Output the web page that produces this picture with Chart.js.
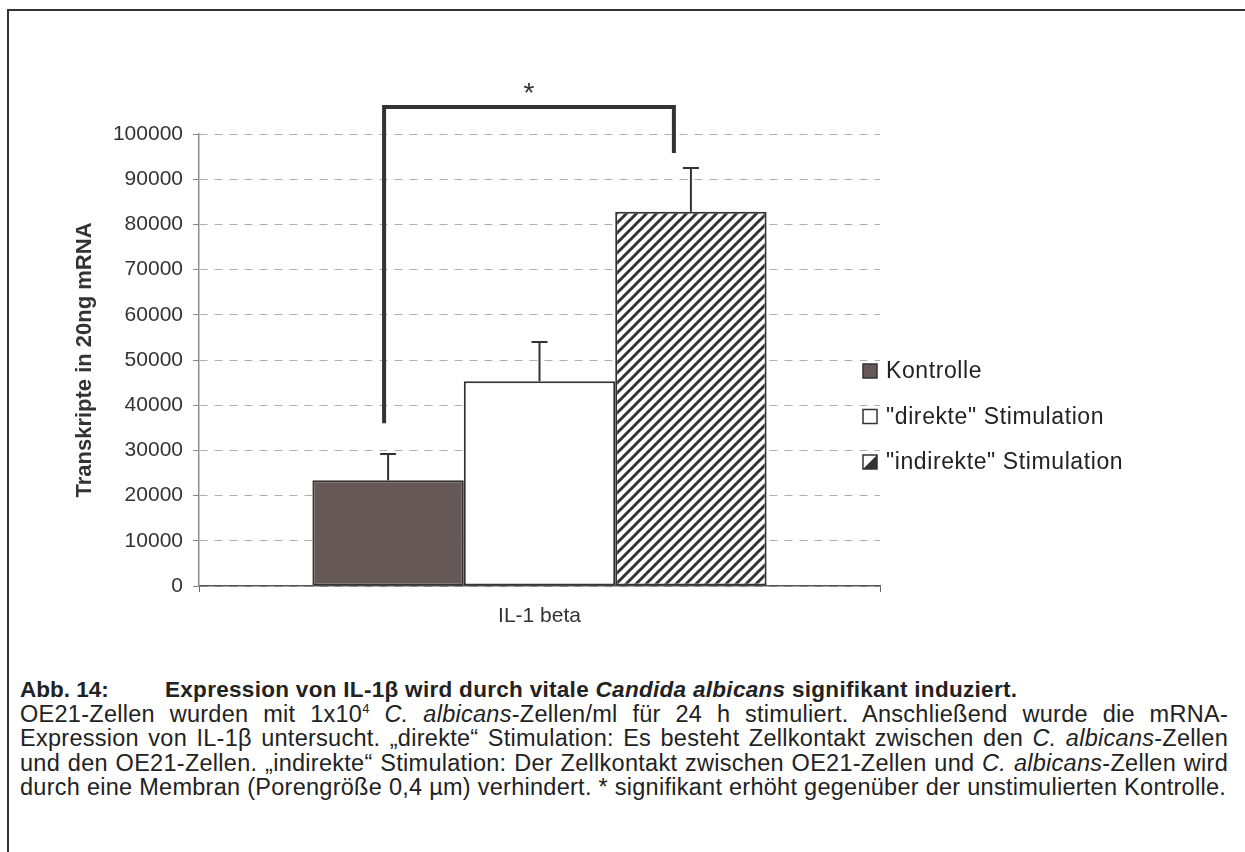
<!DOCTYPE html>
<html>
<head>
<meta charset="utf-8">
<script src="https://cdn.jsdelivr.net/npm/chart.js@4"></script>
<style>
  html, body { margin: 0; padding: 0; background: #fff; overflow: hidden; }
  body { width: 1245px; height: 852px; position: relative; font-family: 'Liberation Sans', Arial, sans-serif; color: #222; }
  #frame { position: absolute; left: 7px; top: 9px; width: 1300px; height: 900px; border: 2px solid #333; box-sizing: border-box; }
  #chart { position: absolute; left: 0; top: 0; }
  #caption { position: absolute; left: 20px; top: 678px; width: 1208px; font-size: 23.5px; line-height: 24.2px; letter-spacing: 0.27px; }
  #caption .line { text-align: justify; text-align-last: justify; }
  #caption .head { position: relative; font-weight: bold; font-size: 22.5px; letter-spacing: 0; }
  #caption .head span { letter-spacing: 0.3px; }
  #caption sup { font-size: 13px; line-height: 0; vertical-align: 9px; }
</style>
</head>
<body>
<div id="frame"></div>
<canvas id="chart" width="1245" height="660"></canvas>
<div id="caption">
  <div class="head">Abb. 14:<span style="position:absolute; left:145px; white-space:nowrap">Expression von IL-1β wird durch vitale <i>Candida albicans</i> signifikant induziert.</span></div>
  <div class="line">OE21-Zellen wurden mit 1x10<sup>4</sup> <i>C. albicans</i>-Zellen/ml für 24 h stimuliert. Anschließend wurde die mRNA-</div>
  <div class="line">Expression von IL-1β untersucht. „direkte“ Stimulation: Es besteht Zellkontakt zwischen den <i>C. albicans</i>-Zellen</div>
  <div class="line">und den OE21-Zellen. „indirekte“ Stimulation: Der Zellkontakt zwischen OE21-Zellen und <i>C. albicans</i>-Zellen wird</div>
  <div>durch eine Membran (Porengröße 0,4 µm) verhindert. * signifikant erhöht gegenüber der unstimulierten Kontrolle.</div>
</div>
<script>
// Daten
const categories = ['IL-1 beta'];
const seriesNames = ['Kontrolle', '"direkte" Stimulation', '"indirekte" Stimulation'];
const meanValues = [23400, 45300, 82800];
const errorValues = [5800, 8700, 9700];
const yTicks = [0, 10000, 20000, 30000, 40000, 50000, 60000, 70000, 80000, 90000, 100000];
// Signifikanz-Klammer: linkes Ende, Oberkante, rechtes Ende
const bracketLevels = [36000, 106000, 95800];

const FONT = "'Liberation Sans', Arial, sans-serif";
const DARK = '#333';

// Schraffur (diagonal "/")
function makeHatch() {
    const c = document.createElement('canvas');
    c.width = 10; c.height = 10;
    const g = c.getContext('2d');
    g.fillStyle = '#fff';
    g.fillRect(0, 0, 10, 10);
    g.strokeStyle = DARK;
    g.lineWidth = 3;
    g.beginPath();
    g.moveTo(-5, 5); g.lineTo(5, -5);
    g.moveTo(0, 10); g.lineTo(10, 0);
    g.moveTo(5, 15); g.lineTo(15, 5);
    g.stroke();
    return g.createPattern(c, 'repeat');
}
const hatch = makeHatch();
const fills = ['#655856', '#ffffff', hatch];

// Fehlerbalken, Klammer und Legende
const extras = {
    id: 'extras',
    afterDatasetsDraw(chart) {
        const ctx = chart.ctx;
        const y = chart.scales.y;
        ctx.save();
        ctx.strokeStyle = DARK;
        ctx.lineWidth = 2;
        meanValues.forEach((m, i) => {
            const bar = chart.getDatasetMeta(i).data[0];
            const yTop = y.getPixelForValue(m + errorValues[i]);
            ctx.beginPath();
            ctx.moveTo(bar.x, bar.y);
            ctx.lineTo(bar.x, yTop);
            ctx.moveTo(bar.x - 8, yTop);
            ctx.lineTo(bar.x + 8, yTop);
            ctx.stroke();
        });
        ctx.restore();
    },
    afterDraw(chart) {
        const ctx = chart.ctx;
        const y = chart.scales.y;
        const b0 = chart.getDatasetMeta(0).data[0];
        const b2 = chart.getDatasetMeta(2).data[0];
        const xl = b0.x - 4, xr = b2.x - 17;
        const yl = y.getPixelForValue(bracketLevels[0]);
        const yt = y.getPixelForValue(bracketLevels[1]);
        const yr = y.getPixelForValue(bracketLevels[2]);
        ctx.save();
        ctx.strokeStyle = DARK;
        ctx.lineWidth = 4;
        ctx.lineJoin = 'miter';
        ctx.beginPath();
        ctx.moveTo(xl, yl);
        ctx.lineTo(xl, yt);
        ctx.lineTo(xr, yt);
        ctx.lineTo(xr, yr);
        ctx.stroke();
        ctx.fillStyle = DARK;
        ctx.font = '28px ' + FONT;
        ctx.textAlign = 'center';
        ctx.textBaseline = 'middle';
        ctx.fillText('*', (xl + xr) / 2, yt - 13);

        // Legende
        const lx = chart.chartArea.right - 17;
        const ly = 371, gap = 45.5, box = 14;
        ctx.font = '23px ' + FONT;
        if ('letterSpacing' in ctx) ctx.letterSpacing = '0.6px';
        ctx.textAlign = 'left';
        seriesNames.forEach((name, i) => {
            const cy = ly + i * gap;
            const bx = lx, by = cy - box / 2;
            ctx.fillStyle = '#fff';
            ctx.fillRect(bx, by, box, box);
            if (i === 0) {
                ctx.fillStyle = fills[0];
                ctx.fillRect(bx, by, box, box);
            } else if (i === 2) {
                ctx.fillStyle = DARK;
                ctx.beginPath();
                ctx.moveTo(bx + box, by);
                ctx.lineTo(bx + box, by + box);
                ctx.lineTo(bx, by + box);
                ctx.closePath();
                ctx.fill();
            }
            ctx.lineWidth = 1.5;
            ctx.strokeStyle = DARK;
            ctx.strokeRect(bx, by, box, box);
            ctx.fillStyle = '#222';
            ctx.fillText(name, bx + box + 9, cy + 1);
        });
        ctx.restore();
    }
};

new Chart(document.getElementById('chart'), {
    type: 'bar',
    data: {
        labels: categories,
        datasets: seriesNames.map((name, i) => ({
            label: name,
            data: [meanValues[i]],
            backgroundColor: fills[i],
            borderColor: DARK,
            borderWidth: 2,
            borderSkipped: false,
            categoryPercentage: 0.667,
            barPercentage: 1.0
        }))
    },
    options: {
        responsive: false,
        animation: false,
        layout: { padding: { left: 68, right: 365, top: 134, bottom: 14 } },
        plugins: {
            legend: { display: false },
            tooltip: { enabled: false }
        },
        scales: {
            x: {
                afterFit: s => { s.height = 60; },
                grid: { drawOnChartArea: false, offset: true, tickLength: 6, color: '#666' },
                border: { color: '#555', width: 1.5 },
                ticks: { color: '#333', padding: 12, font: { family: FONT, size: 21 } }
            },
            y: {
                min: 0,
                max: 100000,
                afterFit: s => { s.width = 131; },
                afterBuildTicks: s => { s.ticks = yTicks.map(v => ({ value: v })); },
                grid: { color: '#b8adab', lineWidth: 1, tickLength: 6, tickColor: '#888' },
                border: { color: '#8f8f8f', width: 1.5, dash: [8, 7] },
                ticks: { color: '#333', padding: 10, font: { family: FONT, size: 21 }, callback: v => String(v) },
                title: {
                    display: true,
                    text: 'Transkripte in 20ng mRNA',
                    color: '#333',
                    padding: { top: 4, bottom: 4 },
                    font: { family: FONT, size: 22, weight: 'bold' }
                }
            }
        }
    },
    plugins: [extras]
});
</script>
</body>
</html>
